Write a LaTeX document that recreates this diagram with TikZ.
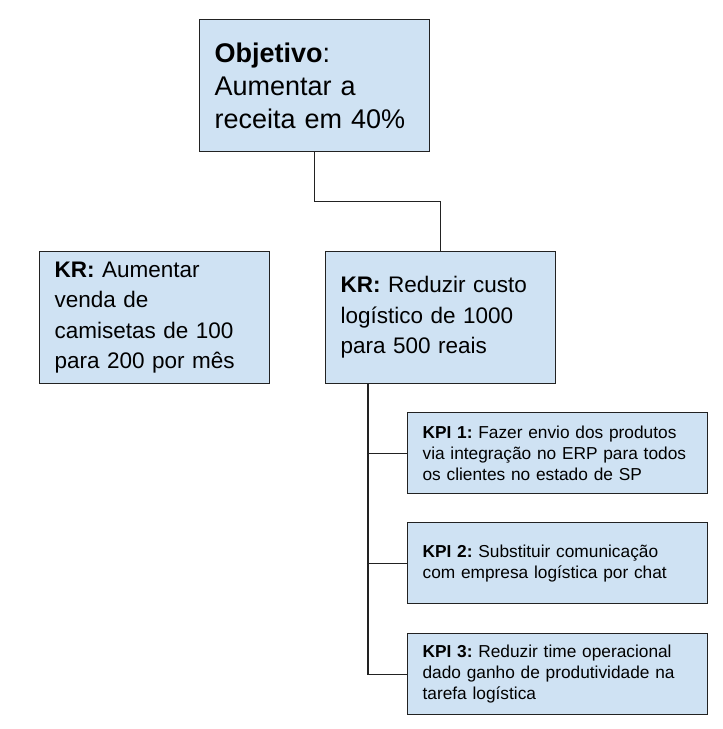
\documentclass[tikz,border=0pt]{standalone}
\usepackage{fontspec}
\setmainfont{Liberation Sans}
\usetikzlibrary{positioning,calc}
\frenchspacing

\definecolor{boxblue}{HTML}{CFE2F3}
\definecolor{edgegray}{HTML}{222222}

\tikzset{
	okrbox/.style={draw=edgegray, line width=1.2pt, fill=boxblue, anchor=north west,
		align=left, inner xsep=15pt, inner ysep=0pt},
	objbox/.style={okrbox, minimum width=230pt, minimum height=132pt, text width=200pt,
		font=\fontsize{27}{33}\selectfont},
	krbox/.style={okrbox, minimum width=230pt, minimum height=132pt, text width=200pt,
		font=\fontsize{22.5}{30.5}\selectfont},
	kpibox/.style={okrbox, minimum width=300pt, minimum height=81pt, text width=270pt,
		font=\fontsize{17.3}{21}\selectfont},
	link/.style={draw=edgegray, line width=1.2pt}
}

\begin{document}
\begin{tikzpicture}[x=1pt, y=-1pt]
		\useasboundingbox (0, 0) rectangle (723, 729);
		\node[objbox] (obj) at (199, 19) {\textbf{Objetivo}:\\Aumentar a\\receita em 40\%};
		\node[krbox] (kr_vendas) at (39, 251) {\textbf{KR:} Aumentar\\venda de\\camisetas de 100\\para 200 por mês};
		\node[krbox] (kr_custo) at (325, 251) {\textbf{KR:} Reduzir custo\\logístico de 1000\\para 500 reais};
		\node[kpibox] (kpi_envio) at (407, 412) {\textbf{KPI 1:} Fazer envio dos produtos\\via integração no ERP para todos\\os clientes no estado de SP};
		\node[kpibox] (kpi_chat) at (407, 522) {\textbf{KPI 2:} Substituir comunicação\\com empresa logística por chat};
		\node[kpibox] (kpi_time) at (407, 633) {\textbf{KPI 3:} Reduzir time operacional\\dado ganho de produtividade na\\tarefa logística};
		\coordinate (obj_mid) at ($(obj.south)!0.5!(kr_custo.north)$);
		\coordinate (kpi_root) at ([xshift=43pt]kr_custo.south west);
		\path [link] (obj.south) |- (obj_mid) -| (kr_custo.north);
		\path [link] (kpi_root) |- (kpi_envio.west);
		\path [link] (kpi_root) |- (kpi_chat.west);
		\path [link] (kpi_root) |- (kpi_time.west);
	\end{tikzpicture}
\end{document}
